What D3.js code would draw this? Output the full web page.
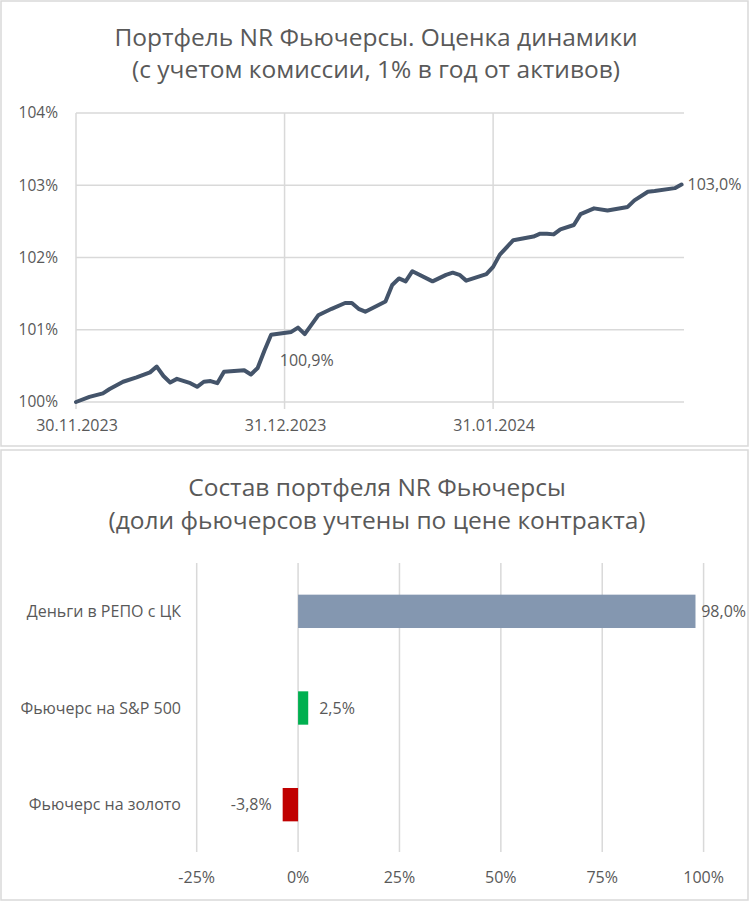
<!DOCTYPE html>
<html><head><meta charset="utf-8">
<script src="https://cdn.jsdelivr.net/npm/d3@7"></script>
<style>
body{margin:0;background:#fff}
svg{display:block}
text{font-family:"Open Sans",sans-serif;fill:#595959}
</style>
</head><body>
<svg id="c" width="752" height="902"></svg>
<script>
// ---------- data ----------
const lineTitle = ["Портфель NR Фьючерсы. Оценка динамики", "(с учетом комиссии, 1% в год от активов)"];
const barTitle = ["Состав портфеля NR Фьючерсы", "(доли фьючерсов учтены по цене контракта)"];

const dates = ["2023-11-30","2023-12-02","2023-12-04","2023-12-05","2023-12-07","2023-12-09","2023-12-11","2023-12-12",
"2023-12-13","2023-12-14","2023-12-15","2023-12-17","2023-12-18","2023-12-19","2023-12-20","2023-12-21","2023-12-22",
"2023-12-25","2023-12-26","2023-12-27","2023-12-28","2023-12-29","2024-01-01","2024-01-02","2024-01-03","2024-01-05",
"2024-01-07","2024-01-09","2024-01-10","2024-01-11","2024-01-12","2024-01-15","2024-01-16","2024-01-17","2024-01-18",
"2024-01-19","2024-01-22","2024-01-24","2024-01-25","2024-01-26","2024-01-27","2024-01-30","2024-01-31","2024-02-01",
"2024-02-03","2024-02-06","2024-02-07","2024-02-08","2024-02-09","2024-02-10","2024-02-12","2024-02-13","2024-02-15",
"2024-02-17","2024-02-20","2024-02-21","2024-02-23","2024-02-24","2024-02-27","2024-02-28"];
const values = [100.00,100.07,100.12,100.18,100.28,100.34,100.41,100.49,
100.36,100.27,100.32,100.26,100.21,100.28,100.29,100.26,100.42,
100.44,100.38,100.47,100.71,100.93,100.97,101.03,100.94,101.20,
101.29,101.37,101.37,101.29,101.25,101.39,101.62,101.71,101.67,
101.81,101.67,101.76,101.79,101.76,101.68,101.77,101.87,102.04,
102.24,102.29,102.33,102.33,102.32,102.39,102.45,102.60,102.68,
102.65,102.70,102.79,102.91,102.92,102.96,103.01];
const labelBelowDates = ["2024-01-03"];
const labelRightDates = ["2024-02-28"];
const yTicks = [100,101,102,103,104];
const xTickDates = ["2023-11-30","2023-12-31","2024-01-31"];
const xTickLabels = ["30.11.2023","31.12.2023","31.01.2024"];

const categories = ["Деньги в РЕПО с ЦК","Фьючерс на S&P 500","Фьючерс на золото"];
const shares = [98.0, 2.5, -3.8];
const barColors = ["#8497b0","#00b050","#c00000"];
const barTicks = [-25,0,25,50,75,100];

// ---------- helpers ----------
const svg = d3.select("#c");
const parse = d3.timeParse("%Y-%m-%d");
const loc = d3.formatLocale({decimal:",", thousands:" ", grouping:[3], currency:["",""], minus:"-"});
const fmt1 = v => loc.format(".1f")(v) + "%";
const fmt0 = v => loc.format("d")(v) + "%";
const grid = "#d9d9d9";

// panel frames
svg.append("rect").attr("x",1).attr("y",1).attr("width",747).attr("height",445)
  .attr("fill","none").attr("stroke",grid).attr("stroke-width",1.5);
svg.append("rect").attr("x",1).attr("y",450).attr("width",747).attr("height",450)
  .attr("fill","none").attr("stroke",grid).attr("stroke-width",1.5);

// ---------- line chart ----------
const pts = dates.map((d,i)=>({date:parse(d), key:d, v:values[i]}));
const x = d3.scaleTime().domain([parse("2023-11-30"), parse("2024-02-28")]).range([76, 681.5]);
const y = d3.scaleLinear().domain([100,104]).range([402,113]);
const gridRight = 684;

svg.append("g").selectAll("text").data(lineTitle).join("text")
  .attr("x",376).attr("y",(d,i)=>46+i*32).attr("text-anchor","middle")
  .style("font-size","24.5px").text(d=>d);

const g1 = svg.append("g");
g1.selectAll("line.h").data(yTicks).join("line")
  .attr("x1",x.range()[0]).attr("x2",gridRight)
  .attr("y1",d=>y(d)).attr("y2",d=>y(d)).attr("stroke",grid).attr("stroke-width",1.5);
g1.selectAll("line.v").data(xTickDates).join("line")
  .attr("x1",d=>x(parse(d))).attr("x2",d=>x(parse(d)))
  .attr("y1",y(104)).attr("y2",y(100)+7).attr("stroke",grid).attr("stroke-width",1.5);
g1.selectAll("text.y").data(yTicks).join("text")
  .attr("x",58).attr("y",d=>y(d)).attr("dy","0.35em").attr("text-anchor","end")
  .style("font-size","15.5px").text(fmt0);
g1.selectAll("text.x").data(xTickDates).join("text")
  .attr("x",d=>x(parse(d))+1).attr("y",y(100)+23).attr("dy","0.35em").attr("text-anchor","middle")
  .style("font-size","16px").text((d,i)=>xTickLabels[i]);

const line = d3.line().x(d=>x(d.date)).y(d=>y(d.v));
g1.append("path").datum(pts).attr("d",line).attr("fill","none")
  .attr("stroke","#44546a").attr("stroke-width",4).attr("stroke-linejoin","round").attr("stroke-linecap","round");

g1.selectAll("text.lb").data(pts.filter(p=>labelBelowDates.includes(p.key))).join("text")
  .attr("x",d=>x(d.date)+2).attr("y",d=>y(d.v)+26).attr("dy","0.35em").attr("text-anchor","middle")
  .style("font-size","16px").text(d=>fmt1(d.v));
g1.selectAll("text.lr").data(pts.filter(p=>labelRightDates.includes(p.key))).join("text")
  .attr("x",d=>x(d.date)+6).attr("y",d=>y(d.v)).attr("dy","0.35em").attr("text-anchor","start")
  .style("font-size","16px").text(d=>fmt1(d.v));

// ---------- bar chart ----------
svg.append("g").selectAll("text").data(barTitle).join("text")
  .attr("x",377).attr("y",(d,i)=>496+i*33).attr("text-anchor","middle")
  .style("font-size","24.5px").text(d=>d);

const xb = d3.scaleLinear().domain([-25,100]).range([196.7,703.6]);
const yb = d3.scaleBand().domain(categories).range([563,853]);
const barH = yb.bandwidth()*0.345;
const g2 = svg.append("g");
g2.selectAll("line").data(barTicks).join("line")
  .attr("x1",d=>xb(d)).attr("x2",d=>xb(d)).attr("y1",563).attr("y2",852)
  .attr("stroke",grid).attr("stroke-width",1.5);
g2.selectAll("text.t").data(barTicks).join("text")
  .attr("x",d=>xb(d)).attr("y",877).attr("dy","0.35em").attr("text-anchor","middle")
  .style("font-size","16px").text(fmt0);
g2.selectAll("text.c").data(categories).join("text")
  .attr("x",181).attr("y",d=>yb(d)+yb.bandwidth()/2).attr("dy","0.35em").attr("text-anchor","end")
  .style("font-size","16px").text(d=>d);
g2.selectAll("rect").data(shares).join("rect")
  .attr("x",d=>xb(Math.min(0,d))).attr("width",d=>Math.abs(xb(d)-xb(0)))
  .attr("y",(d,i)=>yb(categories[i])+yb.bandwidth()/2-barH/2).attr("height",barH)
  .attr("fill",(d,i)=>barColors[i]);
g2.selectAll("text.v").data(shares).join("text")
  .attr("y",(d,i)=>yb(categories[i])+yb.bandwidth()/2).attr("dy","0.35em")
  .style("font-size","16px").text(fmt1)
  .each(function(d){
    const t = d3.select(this), w = this.getComputedTextLength();
    if (d >= 0) t.attr("text-anchor","start").attr("x", Math.min(xb(d)+11, 746-w));
    else t.attr("text-anchor","end").attr("x", xb(d)-11);
  });
</script>
</body></html>
